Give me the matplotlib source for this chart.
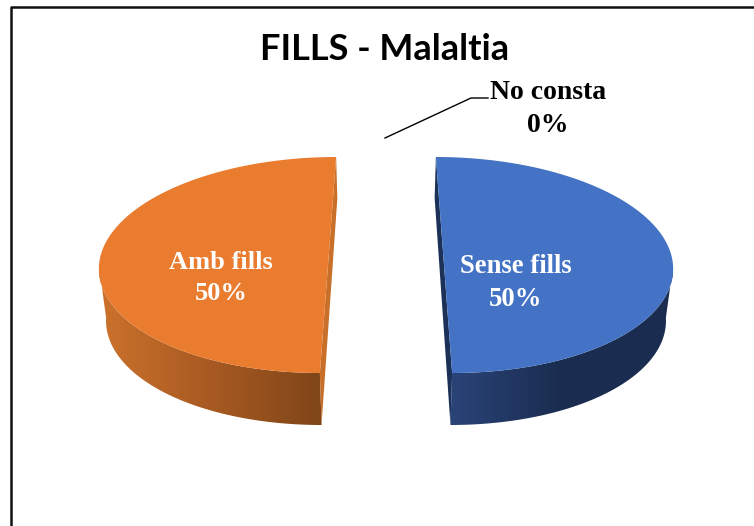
import numpy as np
import matplotlib
matplotlib.use("Agg")
import matplotlib.pyplot as plt
from matplotlib.colors import LinearSegmentedColormap
from matplotlib.patches import Polygon

categories = ["Sense fills", "Amb fills", "No consta"]
values = [50, 50, 0]
top_colors = ["#4472c4", "#ea7c30"]
cut_colors = ["#1c3158", "#c8702a"]
side_stops = [["#2a4478", "#1a2d50", "#1a2d50"], ["#cc722c", "#a85a22", "#7f4518"]]

W, H = 754, 526
CX, CY = 386, 265       # pie centre in pixels
A, B = 229, 108         # ellipse semi axes
EXPLODE = 58
PERSP = 0.14


def rim(theta, sign, lower=False):
    """screen position of a slice outline, theta clockwise from the top"""
    shrink = 0.975 if lower else 1.0
    drop = np.where(theta >= np.pi / 2, 52, 41 + 11 * np.sin(theta)) if lower else 0
    xx = (EXPLODE * (1 - PERSP * np.cos(theta)) + A * np.abs(np.sin(theta))) * shrink
    return CX + sign * xx, CY - B * np.cos(theta) + drop


fig = plt.figure(figsize=(W / 100, H / 100), dpi=100)
ax = fig.add_axes([0, 0, 1, 1])

shares = np.array(values) / sum(values) * 2 * np.pi
starts = np.concatenate([[0], np.cumsum(shares)[:-1]])

for i in range(2):
    t0, t1 = starts[i], starts[i] + shares[i]
    sign = 1 if i == 0 else -1
    # slices are drawn mirrored about the vertical, so work on 0..share
    th = np.linspace(0, t1 - t0, 200)
    x_top, y_top = rim(th, sign)
    x_low, y_low = rim(th, sign, lower=True)

    # curved wall on the front half, shaded left to right
    front = th >= np.pi / 2
    wall = np.column_stack([np.r_[x_top[front], x_low[front][::-1]],
                            np.r_[y_top[front], y_low[front][::-1]]])
    cmap = LinearSegmentedColormap.from_list(categories[i], side_stops[i])
    im = ax.imshow(np.linspace(0, 1, 256)[None, :], cmap=cmap, aspect="auto", zorder=2,
                   extent=[wall[:, 0].min(), wall[:, 0].max(), wall[:, 1].max(), wall[:, 1].min()])
    patch = Polygon(wall, closed=True, transform=ax.transData, fc="none", ec="none")
    ax.add_patch(patch)
    im.set_clip_path(patch)

    # flat cut face along the straight edge
    cut = [(x_top[0], y_top[0]), (x_low[0], y_low[0]), (x_low[-1], y_low[-1]), (x_top[-1], y_top[-1])]
    ax.add_patch(Polygon(cut, closed=True, fc=cut_colors[i], ec="none", zorder=3))

    ax.add_patch(Polygon(np.column_stack([x_top, y_top]), closed=True,
                         fc=top_colors[i], ec="none", zorder=4))

# leader line of the empty slice
ax.plot([385, 471, 488], [138, 98, 98], color="black", lw=1.0, zorder=5)

serif = "Liberation Serif"
ax.text(385, 50, "FILLS - Malaltia", family="Lato", weight="bold", fontsize=26,
        ha="center", va="center", color="black")
ax.text(516, 283, f"{categories[0]}\n{values[0]}%", family=serif, weight="bold", fontsize=19.2,
        ha="center", va="center", color="white", linespacing=1.45, zorder=6)
ax.text(221, 278, f"{categories[1]}\n{values[1]}%", family=serif, weight="bold", fontsize=19,
        ha="center", va="center", color="white", linespacing=1.45, zorder=6)
ax.text(548, 109, f"{categories[2]}\n{values[2]}%", family=serif, weight="bold", fontsize=20,
        ha="center", va="center", color="black", linespacing=1.4, zorder=6)

# chart frame, cut off on the right and at the bottom
ax.plot([11, 11, W + 5], [H + 5, 7, 7], color="#111111", lw=1.8, zorder=7)

ax.set_xlim(0, W)
ax.set_ylim(H, 0)
ax.axis("off")
fig.savefig("out.png", dpi=100, facecolor="white")
